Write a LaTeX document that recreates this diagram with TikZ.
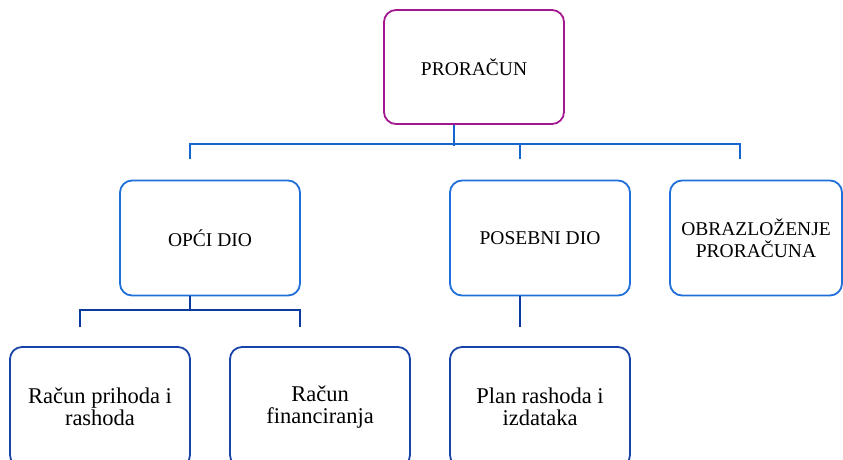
\documentclass[tikz,border=0pt]{standalone}
\usepackage{fontspec}
\setmainfont{Liberation Serif}
\usetikzlibrary{positioning}

\definecolor{rootpurple}{HTML}{A3188E}
\definecolor{midblue}{HTML}{1E6FD9}
\definecolor{lowblue}{HTML}{1843A8}
\definecolor{busblue}{HTML}{1565D0}
\definecolor{darkbus}{HTML}{0B3B9E}

\tikzstyle{card} = [rounded corners=12pt, line width=1.8pt, fill=white, align=center, inner sep=2pt]
\tikzstyle{rootcard} = [card, draw=rootpurple, minimum width=180pt, minimum height=114pt, font=\fontsize{19.5}{22}\selectfont]
\tikzstyle{midcard} = [card, draw=midblue, minimum width=180pt, minimum height=115pt, font=\fontsize{19.5}{22}\selectfont]
\tikzstyle{lowcard} = [card, draw=lowblue, minimum width=180pt, minimum height=120pt, font=\fontsize{22.5}{22}\selectfont]
\tikzstyle{bus} = [line width=2pt, draw=busblue]
\tikzstyle{lowbus} = [line width=2pt, draw=darkbus]

\begin{document}
\begin{tikzpicture}[x=1pt, y=-1pt]

                    \useasboundingbox (0,0) rectangle (843,459);

                    % Top
                    \node[rootcard] (proracun) at (474,67) {PRORAČUN};

                    % Second row
                    \node[midcard] (opci) at (210,238) {OPĆI DIO};
                    \node[midcard] (posebni) at (540,238) {POSEBNI DIO};
                    \node[midcard, minimum width=172pt] (obrazlozenje) at (756,238) {OBRAZLOŽENJE\\PRORAČUNA};

                    % Third row
                    \node[lowcard] (prihodi) at (100,407) {Račun prihoda i\\rashoda};
                    \node[lowcard] (financiranje) at (320,407) {Račun\\financiranja};
                    \node[lowcard] (plan) at (540,407) {Plan rashoda i\\izdataka};

                    % Upper lines
                    \draw[bus] ([xshift=-20pt]proracun.south) -- ++(0,21);
                    \draw[bus] ([xshift=-20pt,yshift=21pt]opci.north) -- ++(0,-15)
                        -- ([xshift=-16pt,yshift=36pt]obrazlozenje.north) -- ++(0,15);
                    \draw[bus] ([xshift=-20pt,yshift=21pt]posebni.north) -- ++(0,-15);

                    % Lower lines
                    \draw[lowbus] ([xshift=-20pt]opci.south) -- ++(0,15);
                    \draw[lowbus] ([xshift=-20pt,yshift=19pt]prihodi.north) -- ++(0,-17)
                        -- ([xshift=-20pt,yshift=36pt]financiranje.north) -- ++(0,17);
                    \draw[lowbus] ([xshift=-20pt]posebni.south) -- ([xshift=-20pt,yshift=19pt]plan.north);

                \end{tikzpicture}
\end{document}
